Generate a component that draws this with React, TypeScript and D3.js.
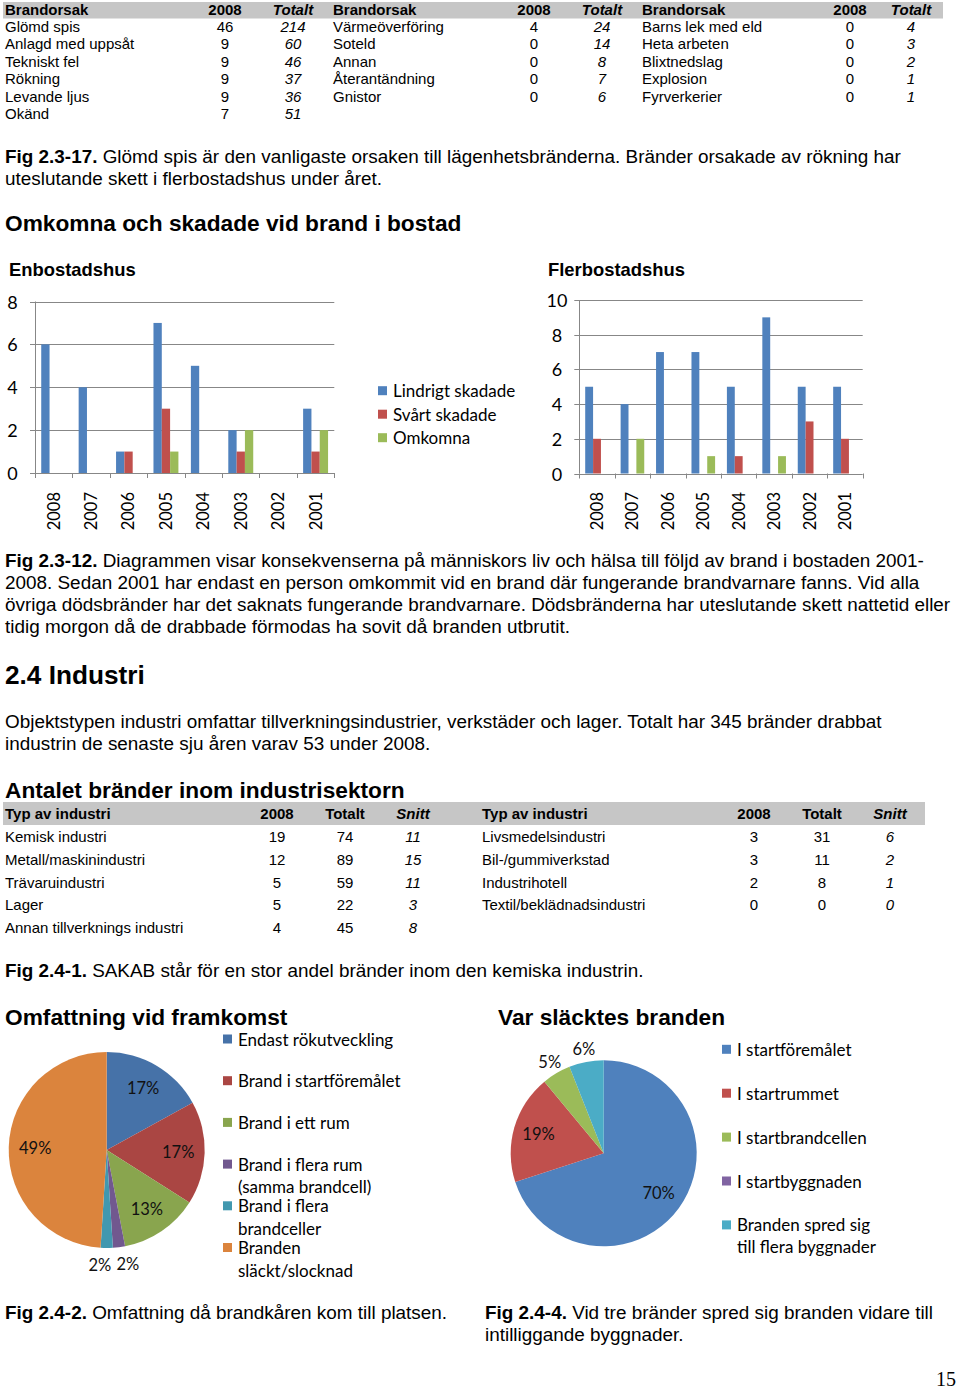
import React from "react";
import * as d3 from "d3";

// ---------- DATA ----------
const causesA = ["Glömd spis", "Anlagd med uppsåt", "Tekniskt fel", "Rökning", "Levande ljus", "Okänd"];
const causesA2008 = [46, 9, 9, 9, 9, 7];
const causesATot = [214, 60, 46, 37, 36, 51];
const causesB = ["Värmeöverföring", "Soteld", "Annan", "Återantändning", "Gnistor"];
const causesB2008 = [4, 0, 0, 0, 0];
const causesBTot = [24, 14, 8, 7, 6];
const causesC = ["Barns lek med eld", "Heta arbeten", "Blixtnedslag", "Explosion", "Fyrverkerier"];
const causesC2008 = [0, 0, 0, 0, 0];
const causesCTot = [4, 3, 2, 1, 1];

const years = ["2008", "2007", "2006", "2005", "2004", "2003", "2002", "2001"];
const enLindrigt = [6, 4, 1, 7, 5, 2, 0, 3];
const enSvart = [0, 0, 1, 3, 0, 1, 0, 1];
const enOmkomna = [0, 0, 0, 1, 0, 2, 0, 2];
const flLindrigt = [5, 4, 7, 7, 5, 9, 5, 5];
const flSvart = [2, 0, 0, 0, 1, 0, 3, 2];
const flOmkomna = [0, 2, 0, 1, 0, 1, 0, 0];
const barSeriesNames = ["Lindrigt skadade", "Svårt skadade", "Omkomna"];
const enTicks = [0, 2, 4, 6, 8];
const flTicks = [0, 2, 4, 6, 8, 10];

const indA = ["Kemisk industri", "Metall/maskinindustri", "Trävaruindustri", "Lager", "Annan tillverknings industri"];
const indA2008 = [19, 12, 5, 5, 4];
const indATot = [74, 89, 59, 22, 45];
const indASnitt = [11, 15, 11, 3, 8];
const indB = ["Livsmedelsindustri", "Bil-/gummiverkstad", "Industrihotell", "Textil/beklädnadsindustri"];
const indB2008 = [3, 3, 2, 0];
const indBTot = [31, 11, 8, 0];
const indBSnitt = [6, 2, 1, 0];

const pie1Values = [17, 17, 13, 2, 2, 49];
const pie1Legend = [
  ["Endast rökutveckling"],
  ["Brand i startföremålet"],
  ["Brand i ett rum"],
  ["Brand i flera rum", "(samma brandcell)"],
  ["Brand i flera", "brandceller"],
  ["Branden", "släckt/slocknad"],
];
const pie2Values = [70, 19, 5, 0, 6];
const pie2Legend = [
  ["I startföremålet"],
  ["I startrummet"],
  ["I startbrandcellen"],
  ["I startbyggnaden"],
  ["Branden spred sig", "till flera byggnader"],
];

// ---------- STYLE ----------
const ARIAL = "'Liberation Sans', Arial, sans-serif";
const CAL = "Lato, 'Open Sans', sans-serif";
const barColors = ["#4f81bd", "#c0504d", "#9bbb59"];
const pie1Colors = ["#4672a8", "#aa4643", "#89a54e", "#71588f", "#4198af", "#db843d"];
const pie2Colors = ["#4f81bd", "#c0504d", "#9bbb59", "#8064a2", "#4bacc6"];
const GRID = "#878787";

function BarChart(props: {
  title: string; titleX: number; x0: number; x1: number; yTop: number; yBottom: number;
  max: number; ticks: number[]; series: number[][]; tickX: number;
}) {
  const { title, titleX, x0, x1, yTop, yBottom, max, ticks, series, tickX } = props;
  const x = d3.scaleBand<string>().domain(years).range([x0, x1]);
  const bw = x.bandwidth();
  const inner = d3.scaleBand<string>().domain(["0", "1", "2"]).range([bw / 6, (bw * 5) / 6]);
  const y = d3.scaleLinear().domain([0, max]).range([yBottom, yTop]);
  const bounds = [...years.map((d) => x(d) as number), x1];
  return (
    <g>
      <text x={titleX} y={276} fontFamily={ARIAL} fontWeight="bold" fontSize={18.4}>{title}</text>
      {ticks.map((t) => (
        <g key={t}>
          <line x1={x0 - 5} x2={x1} y1={Math.round(y(t)) + 0.5} y2={Math.round(y(t)) + 0.5} stroke={GRID} />
          <text x={tickX} y={y(t)} textAnchor="middle" dominantBaseline="central" fontFamily={CAL} fontSize={18}>{t}</text>
        </g>
      ))}
      <line x1={Math.round(x0) + 0.5} x2={Math.round(x0) + 0.5} y1={yTop} y2={yBottom} stroke={GRID} />
      {bounds.map((v, i) => (
        <line key={i} x1={Math.round(v) + 0.5} x2={Math.round(v) + 0.5} y1={yBottom} y2={yBottom + 5} stroke={GRID} />
      ))}
      {series.map((s, si) =>
        s.map((v, i) =>
          v > 0 ? (
            <rect key={si + "-" + i}
              x={(x(years[i]) as number) + (inner(String(si)) as number)}
              width={inner.bandwidth()}
              y={y(v)} height={y(0) - y(v)} fill={barColors[si]} />
          ) : null
        )
      )}
      {years.map((yr) => (
        <text key={yr} transform={`translate(${(x(yr) as number) + bw / 2},${492}) rotate(-90)`}
          textAnchor="end" dy="0.36em" fontFamily={CAL} fontSize={16.5}>{yr}</text>
      ))}
    </g>
  );
}

function Pie(props: { values: number[]; colors: string[]; cx: number; cy: number; r: number; outF: number }) {
  const { values, colors, cx, cy, r, outF } = props;
  const arcs = d3.pie<number>().sort(null).value((d) => d)(values);
  const arc = d3.arc<d3.PieArcDatum<number>>().innerRadius(0).outerRadius(r);
  const total = d3.sum(values);
  const labels = arcs
    .map((a, i) => ({ a, i }))
    .filter((o) => o.a.data > 0)
    .map(({ a, i }) => {
      const pct = Math.round((a.data / total) * 100);
      const mid = (a.startAngle + a.endAngle) / 2;
      const f = pct >= 10 ? 0.73 : outF;
      return { i, pct, x: cx + Math.sin(mid) * r * f, y: cy - Math.cos(mid) * r * f, outside: pct < 10 };
    });
  const out = labels.filter((l) => l.outside).sort((p, q) => p.x - q.x);
  for (let k = 1; k < out.length; k++) {
    const gap = out[k].x - out[k - 1].x;
    if (gap < 28 && Math.abs(out[k].y - out[k - 1].y) < 16) {
      const d = (28 - gap) / 2;
      out[k - 1].x -= d;
      out[k].x += d;
    }
  }
  return (
    <g>
      <g transform={`translate(${cx},${cy})`}>
        {arcs.map((a, i) => (a.data > 0 ? <path key={i} d={arc(a) as string} fill={colors[i]} /> : null))}
      </g>
      {labels.map((l) => (
        <text key={l.i} x={l.x} y={l.y} textAnchor="middle" dominantBaseline="central" fontFamily={CAL} fontSize={16.5} fill="#111">
          {l.pct + "%"}
        </text>
      ))}
    </g>
  );
}

function Legend(props: { items: string[][]; colors: string[]; x: number; y0: number; step: number; lineStep: number; sq: number }) {
  const { items, colors, x, y0, step, lineStep, sq } = props;
  return (
    <g>
      {items.map((lines, i) => {
        const y = y0 + i * step;
        return (
          <g key={i}>
            <rect x={x} y={y - sq / 2} width={sq} height={sq} fill={colors[i]} />
            {lines.map((t, j) => (
              <text key={j} x={x + sq + 6} y={y + j * lineStep} dominantBaseline="central" fontFamily={CAL} fontSize={17}>{t}</text>
            ))}
          </g>
        );
      })}
    </g>
  );
}

function CauseTable() {
  const groups = [
    { names: causesA, v: causesA2008, t: causesATot, xl: 5, xv: 225, xt: 293 },
    { names: causesB, v: causesB2008, t: causesBTot, xl: 333, xv: 534, xt: 602 },
    { names: causesC, v: causesC2008, t: causesCTot, xl: 642, xv: 850, xt: 911 },
  ];
  const rowY = (i: number) => 32 + i * 17.4;
  return (
    <g fontFamily={ARIAL} fontSize={15}>
      <rect x={3} y={2} width={940} height={16.5} fill="#c6c6c6" />
      {groups.map((g, gi) => (
        <g key={gi}>
          <text x={g.xl} y={15} fontWeight="bold">Brandorsak</text>
          <text x={g.xv} y={15} fontWeight="bold" textAnchor="middle">2008</text>
          <text x={g.xt} y={15} fontWeight="bold" fontStyle="italic" textAnchor="middle">Totalt</text>
          {g.names.map((n, i) => (
            <g key={n}>
              <text x={g.xl} y={rowY(i)}>{n}</text>
              <text x={g.xv} y={rowY(i)} textAnchor="middle">{g.v[i]}</text>
              <text x={g.xt} y={rowY(i)} textAnchor="middle" fontStyle="italic">{g.t[i]}</text>
            </g>
          ))}
        </g>
      ))}
    </g>
  );
}

function IndustryTable() {
  const groups = [
    { names: indA, v: indA2008, t: indATot, s: indASnitt, xl: 5, xv: 277, xt: 345, xs: 413 },
    { names: indB, v: indB2008, t: indBTot, s: indBSnitt, xl: 482, xv: 754, xt: 822, xs: 890 },
  ];
  const rowY = (i: number) => 842 + i * 22.8;
  return (
    <g fontFamily={ARIAL} fontSize={15}>
      <rect x={3} y={802} width={922} height={23} fill="#c6c6c6" />
      {groups.map((g, gi) => (
        <g key={gi}>
          <text x={g.xl} y={819} fontWeight="bold">Typ av industri</text>
          <text x={g.xv} y={819} fontWeight="bold" textAnchor="middle">2008</text>
          <text x={g.xt} y={819} fontWeight="bold" textAnchor="middle">Totalt</text>
          <text x={g.xs} y={819} fontWeight="bold" fontStyle="italic" textAnchor="middle">Snitt</text>
          {g.names.map((n, i) => (
            <g key={n}>
              <text x={g.xl} y={rowY(i)}>{n}</text>
              <text x={g.xv} y={rowY(i)} textAnchor="middle">{g.v[i]}</text>
              <text x={g.xt} y={rowY(i)} textAnchor="middle">{g.t[i]}</text>
              <text x={g.xs} y={rowY(i)} textAnchor="middle" fontStyle="italic">{g.s[i]}</text>
            </g>
          ))}
        </g>
      ))}
    </g>
  );
}

export default function App() {
  const body = { fontFamily: ARIAL, fontSize: 18.9 };
  return (
    <svg width={960} height={1389} style={{ position: "absolute", left: 0, top: 0, background: "#fff" }}>
      <rect x={0} y={0} width={960} height={1389} fill="#fff" />
      <CauseTable />

      <g {...body}>
        <text x={5} y={163}><tspan fontWeight="bold">Fig 2.3-17.</tspan> Glömd spis är den vanligaste orsaken till lägenhetsbränderna. Bränder orsakade av rökning har</text>
        <text x={5} y={185}>uteslutande skett i flerbostadshus under året.</text>
      </g>
      <text x={5} y={231} fontFamily={ARIAL} fontWeight="bold" fontSize={22.7}>Omkomna och skadade vid brand i bostad</text>

      <BarChart title="Enbostadshus" titleX={9} x0={35} x1={334.3} yTop={301.5} yBottom={473}
        max={8} ticks={enTicks} series={[enLindrigt, enSvart, enOmkomna]} tickX={12.5} />
      <BarChart title="Flerbostadshus" titleX={548} x0={579.3} x1={862.7} yTop={300} yBottom={473.5}
        max={10} ticks={flTicks} series={[flLindrigt, flSvart, flOmkomna]} tickX={557} />
      <Legend items={barSeriesNames.map((s) => [s])} colors={barColors} x={378} y0={390.7} step={23.5} lineStep={0} sq={9} />

      <g {...body}>
        <text x={5} y={567}><tspan fontWeight="bold">Fig 2.3-12.</tspan> Diagrammen visar konsekvenserna på människors liv och hälsa till följd av brand i bostaden 2001-</text>
        <text x={5} y={589}>2008. Sedan 2001 har endast en person omkommit vid en brand där fungerande brandvarnare fanns. Vid alla</text>
        <text x={5} y={611}>övriga dödsbränder har det saknats fungerande brandvarnare. Dödsbränderna har uteslutande skett nattetid eller</text>
        <text x={5} y={633}>tidig morgon då de drabbade förmodas ha sovit då branden utbrutit.</text>
      </g>

      <text x={5} y={684} fontFamily={ARIAL} fontWeight="bold" fontSize={26.2}>2.4 Industri</text>
      <g {...body}>
        <text x={5} y={728}>Objektstypen industri omfattar tillverkningsindustrier, verkstäder och lager. Totalt har 345 bränder drabbat</text>
        <text x={5} y={750}>industrin de senaste sju åren varav 53 under 2008.</text>
      </g>
      <text x={5} y={798} fontFamily={ARIAL} fontWeight="bold" fontSize={22.7}>Antalet bränder inom industrisektorn</text>
      <IndustryTable />
      <text x={5} y={977} {...body}><tspan fontWeight="bold">Fig 2.4-1.</tspan> SAKAB står för en stor andel bränder inom den kemiska industrin.</text>

      <text x={5} y={1025} fontFamily={ARIAL} fontWeight="bold" fontSize={22.7}>Omfattning vid framkomst</text>
      <Pie values={pie1Values} colors={pie1Colors} cx={106.7} cy={1150} r={98} outF={1.17} />
      <Legend items={pie1Legend} colors={pie1Colors} x={223} y0={1039} step={41.7} lineStep={22.5} sq={9} />

      <text x={498} y={1025} fontFamily={ARIAL} fontWeight="bold" fontSize={22.7}>Var släcktes branden</text>
      <Pie values={pie2Values} colors={pie2Colors} cx={603.7} cy={1153.3} r={93} outF={1.14} />
      <Legend items={pie2Legend} colors={pie2Colors} x={722} y0={1049.3} step={43.9} lineStep={21.7} sq={9} />

      <g {...body}>
        <text x={5} y={1319}><tspan fontWeight="bold">Fig 2.4-2.</tspan> Omfattning då brandkåren kom till platsen.</text>
        <text x={485} y={1319}><tspan fontWeight="bold">Fig 2.4-4.</tspan> Vid tre bränder spred sig branden vidare till</text>
        <text x={485} y={1341}>intilliggande byggnader.</text>
      </g>
      <text x={956} y={1386} textAnchor="end" fontFamily="'Liberation Serif', 'DejaVu Serif', serif" fontSize={20}>15</text>
    </svg>
  );
}
